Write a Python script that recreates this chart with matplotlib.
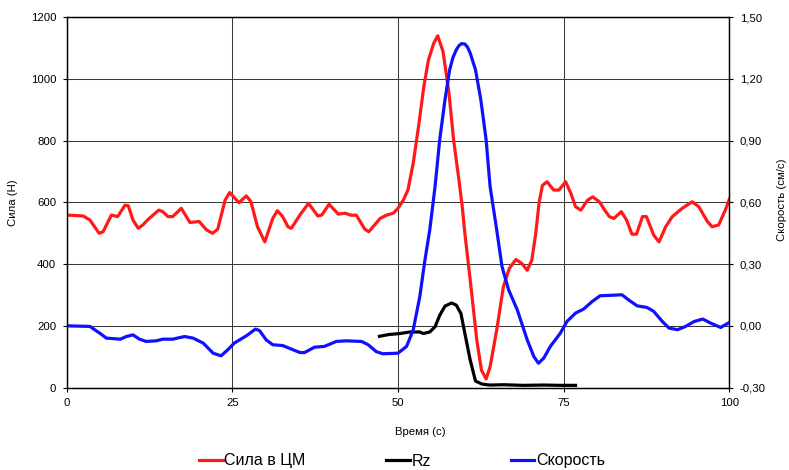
import matplotlib
matplotlib.use("Agg")
import matplotlib.pyplot as plt
from matplotlib.ticker import FuncFormatter, MultipleLocator

plt.rcParams.update({
    "font.family": ["Liberation Sans", "DejaVu Sans"],
    "font.size": 8.2,
})

# Сила в ЦМ, Н (left axis)
force_t = [0, 2.5, 3.5, 4.9, 5.5, 6.75, 7.7, 8.8, 9.3, 10, 10.8, 11.5, 12.3, 13.9, 14.5,
           15.3, 16, 17.3, 18.6, 20, 21.1, 22, 22.8, 23.9, 24.6, 26, 27.1, 27.8, 28.8, 29.9,
           31.1, 31.8, 32.6, 33.4, 33.9, 35.2, 36.5, 37.9, 38.5, 39.6, 41, 42, 43, 43.7, 45,
           45.6, 47.3, 48.3, 49.3, 50, 50.8, 51.5, 52.3, 53.1, 53.9, 54.6, 55.4, 56.0, 56.8,
           57.7, 58.4, 59.2, 59.7, 60.1, 60.9, 61.9, 62.6, 63.3, 63.9, 64.9, 65.9, 66.8, 67.8,
           68.7, 69.5, 70.2, 70.8, 71.3, 71.8, 72.5, 73.5, 74.3, 75.3, 76.1, 76.8, 77.6, 78.6,
           79.4, 80.4, 81.2, 81.9, 82.6, 83.7, 84.5, 85.3, 86, 86.9, 87.5, 88.6, 89.4, 90.4,
           91.4, 92.9, 94.4, 95.4, 96.7, 97.4, 98.4, 99.4, 100]
force = [559, 556, 543, 500, 505, 559, 554, 591, 589, 543, 516, 527, 545, 575, 570,
         554, 554, 581, 535, 538, 511, 500, 513, 607, 632, 599, 621, 603, 521, 472,
         548, 573, 554, 521, 516, 559, 597, 556, 559, 594, 562, 565, 558, 559, 513,
         505, 548, 559, 565, 581, 607, 640, 727, 845, 975, 1062, 1116, 1140, 1089,
         954, 802, 673, 586, 499, 349, 153, 56, 28, 67, 186, 326, 386, 415,
         402, 380, 413, 500, 600, 655, 667, 640, 640, 667, 629, 586, 575, 607,
         618, 602, 575, 554, 548, 570, 543, 497, 497, 554, 554, 494, 472, 521,
         554, 581, 602, 586, 538, 521, 527, 575, 610]

# Rz, Н (left axis)
rz_t = [47.2, 48.7, 50.3, 51.8, 53.3, 53.8, 54.8, 55.6, 56.3, 57.1, 58.1, 58.8, 59.5,
        60.1, 60.9, 61.7, 62.7, 63.9, 66.0, 68.9, 72.0, 74.5, 76.8]
rz = [166, 172, 175, 180, 180, 175, 180, 197, 234, 264, 274, 267, 240,
      175, 89, 21, 11, 8, 9, 7, 8, 7, 7]

# Скорость, см/с (right axis)
vel_t = [0, 3.5, 5, 6, 8.1, 9.0, 10, 11.0, 12.0, 13.5, 14.5, 16.0, 17.8, 19.1, 20.6,
         22.1, 23.3, 24.3, 25.3, 27.1, 28.5, 29.1, 30.1, 31.1, 32.6, 33.6, 35.2, 35.9,
         37.4, 38.9, 40.7, 42.2, 44.5, 45.5, 46.7, 47.7, 50, 51.3, 52.3, 53.3, 54.0,
         54.8, 55.6, 56.3, 57.1, 57.8, 58.3, 58.8, 59.2, 59.6, 60.1, 60.5, 60.9, 61.7,
         62.5, 63.3, 63.9, 64.9, 65.7, 66.7, 68.0, 69.5, 70.5, 71.2, 72.0, 73.0, 74.5,
         75.5, 76.8, 78.0, 79.3, 80.5, 82.0, 83.8, 84.8, 86.1, 87.6, 88.6, 89.9, 90.9,
         92.2, 93.4, 94.7, 96.0, 97.2, 98.7, 100]
vel = [0.000, -0.003, -0.036, -0.060, -0.065, -0.052, -0.044, -0.065, -0.076, -0.073,
       -0.065, -0.065, -0.052, -0.060, -0.084, -0.133, -0.146, -0.117, -0.084, -0.049,
       -0.016, -0.023, -0.068, -0.092, -0.096, -0.109, -0.130, -0.130, -0.104, -0.100,
       -0.076, -0.073, -0.076, -0.092, -0.125, -0.136, -0.133, -0.100, -0.020, 0.143,
       0.305, 0.467, 0.678, 0.905, 1.100, 1.245, 1.305, 1.342, 1.362, 1.372, 1.370,
       1.355, 1.326, 1.245, 1.100, 0.905, 0.678, 0.467, 0.288, 0.175, 0.078, -0.068,
       -0.149, -0.182, -0.157, -0.100, -0.036, 0.021, 0.062, 0.081, 0.118, 0.146, 0.148,
       0.151, 0.126, 0.097, 0.089, 0.070, 0.021, -0.011, -0.019, -0.003, 0.021, 0.033,
       0.013, -0.008, 0.016]

fig = plt.figure(figsize=(7.89, 4.70), dpi=100)
ax = fig.add_axes([0.0845, 0.1755, 0.8398, 0.7877])
ax2 = ax.twinx()

l1, = ax.plot(force_t, force, color="#ff1a1a", lw=2.3, label="Сила в ЦМ")
l2, = ax.plot(rz_t, rz, color="black", lw=2.3, label="Rz")
l3, = ax2.plot(vel_t, vel, color="#1010ff", lw=2.3, label="Скорость")

ax.set_xlim(0, 100)
ax.set_ylim(0, 1200)
ax2.set_ylim(-0.30, 1.50)
ax.xaxis.set_major_locator(MultipleLocator(25))
ax.yaxis.set_major_locator(MultipleLocator(200))
ax2.yaxis.set_major_locator(MultipleLocator(0.30))
ax2.yaxis.set_major_formatter(FuncFormatter(lambda v, p: f"{v:.2f}".replace(".", ",")))

ax.grid(True, color="#3a3a3a", lw=0.75)
ax.set_axisbelow(True)
for a in (ax, ax2):
    for s in a.spines.values():
        s.set_linewidth(0.9)
    a.tick_params(length=3, width=0.8, pad=4.5, labelsize=8.2)

ax.set_xlabel("Время (с)")
ax.xaxis.set_label_coords(0.533, -0.107)
ax.set_ylabel("Сила (Н)")
ax.yaxis.set_label_coords(-0.0735, 0.5)
fig.text(782 / 789, 0.575, "Скорость (см/с)", rotation=90, ha="center", va="center",
         fontsize=8.2)

fig.legend(handles=[l1, l2, l3], loc="center", bbox_to_anchor=(402 / 789, 1 - 461 / 470),
           ncol=3, frameon=False, fontsize=11.5, handlelength=1.5, handletextpad=0.1,
           columnspacing=5.0)

fig.savefig("out.png", dpi=100)
